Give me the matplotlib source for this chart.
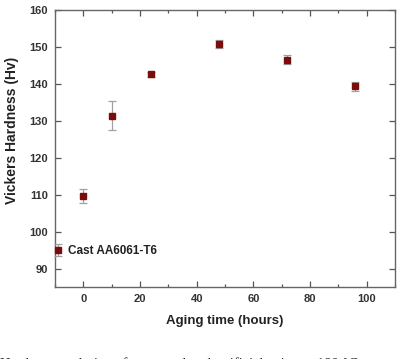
import matplotlib
matplotlib.use('Agg')
import matplotlib.pyplot as plt
from matplotlib.ticker import MultipleLocator

# aging time (hours) and Vickers hardness with error
aging_time = [0, 10, 24, 48, 72, 96]
hardness = [109.6, 131.4, 142.6, 150.8, 146.6, 139.3]
hardness_err = [1.9, 3.9, 0.7, 1.2, 1.3, 1.2]
series_label = 'Cast AA6061-T6'

plt.rcParams['font.family'] = ['Liberation Sans', 'DejaVu Sans']

fig = plt.figure(figsize=(4.0, 3.59), dpi=100)
ax = fig.add_axes([0.1375, 0.2006, 0.85, 0.7714])

ax.errorbar(aging_time, hardness, yerr=hardness_err, fmt='s',
            color='#7a0c0c', markersize=4.5, ecolor='#a0a0a0',
            elinewidth=0.9, capsize=3, capthick=0.9, label=series_label)

ax.set_xlim(-10, 110)
ax.set_ylim(85, 160)
ax.xaxis.set_major_locator(MultipleLocator(20))
ax.xaxis.set_minor_locator(MultipleLocator(10))
ax.yaxis.set_major_locator(MultipleLocator(10))
ax.tick_params(which='both', direction='in', top=True, right=True,
               color='#555555', labelsize=8, labelcolor='#333333', pad=5)
ax.tick_params(which='major', length=4, width=0.9)
ax.tick_params(which='minor', length=2.5, width=0.9)
for label in ax.get_xticklabels() + ax.get_yticklabels():
    label.set_fontweight('bold')
for spine in ax.spines.values():
    spine.set_color('#666666')
    spine.set_linewidth(1.0)

ax.set_xlabel('Aging time (hours)', fontsize=9.5, fontweight='bold',
              color='#222222', labelpad=8)
ax.set_ylabel('Vickers Hardness (Hv)', fontsize=10, fontweight='bold',
              color='#222222')
ax.yaxis.set_label_coords(-0.105, 0.565)

leg = ax.legend(loc='lower left', frameon=False, handlelength=0.6,
                handletextpad=0.5, borderaxespad=0.1,
                bbox_to_anchor=(-0.018, 0.087),
                prop={'weight': 'bold', 'size': 8.5})
for text in leg.get_texts():
    text.set_color('#222222')

# caption cut off at the bottom of the image
fig.text(0.0, -0.033, 'Hardness evolution after natural and artificial aging at 180 \u00b0C',
         fontsize=10.5, family=['Liberation Serif', 'DejaVu Serif'],
         color='#222222', ha='left', va='bottom')

fig.savefig('out.png', dpi=100)
